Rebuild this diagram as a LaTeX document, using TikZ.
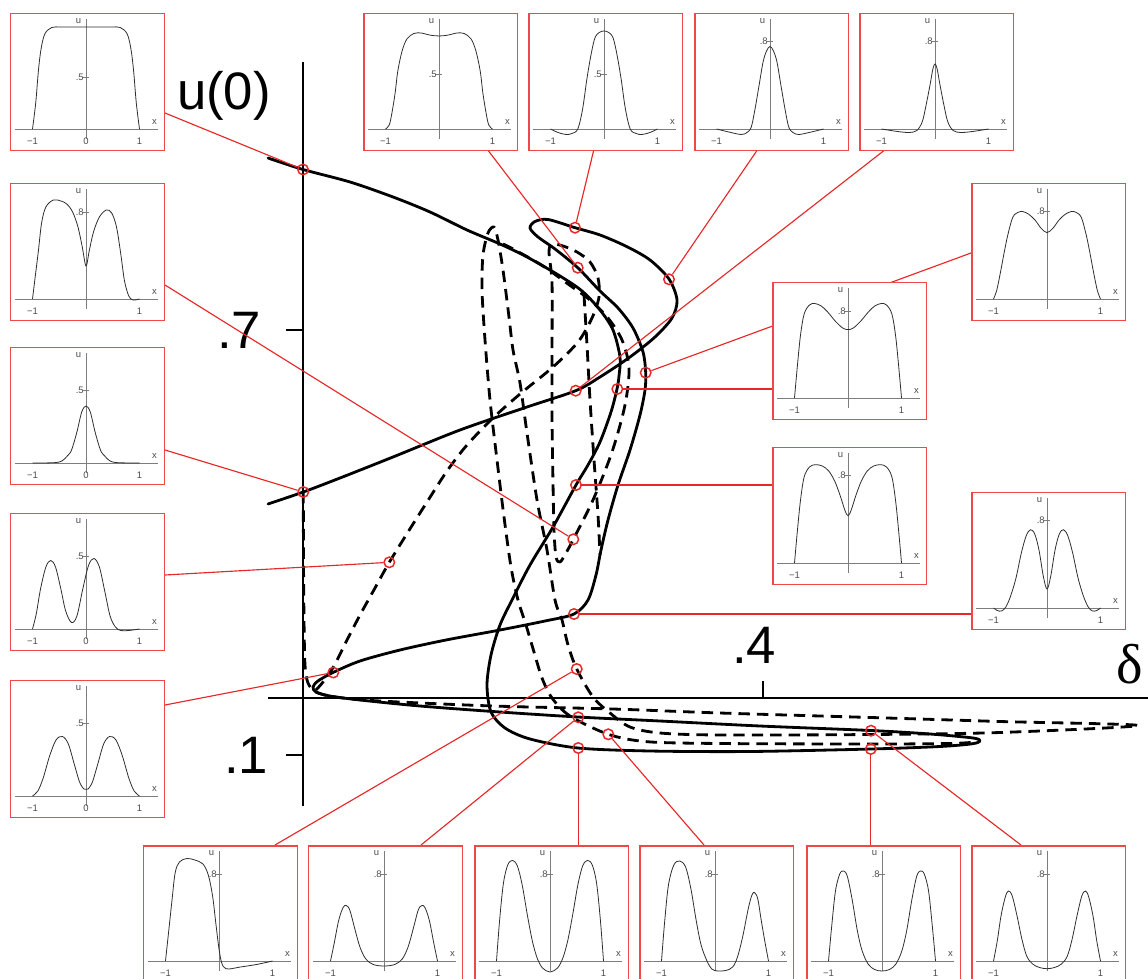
\documentclass[tikz,border=0pt]{standalone}
\usepackage{fontspec}
\setmainfont{Liberation Sans}
\newfontfamily\serifgreek{Liberation Serif}
\definecolor{leadred}{RGB}{232,40,40}
\definecolor{framered}{RGB}{238,72,72}
\definecolor{insetgray}{RGB}{125,125,125}
\definecolor{insetink}{RGB}{45,45,45}
\tikzset{
  mainline/.style={line width=1.6pt, line cap=round, line join=round},
  dashline/.style={line width=1.6pt, dash pattern=on 6.5pt off 4pt, line join=round},
  axisline/.style={line width=1.1pt},
  leader/.style={draw=leadred, line width=0.65pt},
  marker/.style={circle, draw=leadred, line width=0.85pt, minimum size=0.21cm, inner sep=0pt},
  insetframe/.style={rectangle, draw=framered, line width=0.85pt, fill=white, minimum width=3.08cm, minimum height=2.74cm, inner sep=0pt},
  insetaxis/.style={draw=insetgray, line width=0.45pt},
  insetcurve/.style={draw=insetink, line width=0.45pt},
  insettext/.style={text=insetink!85, font=\fontsize{5.4}{6}\selectfont, inner sep=0.5pt},
  biglabel/.style={font=\fontsize{30}{32}\selectfont, inner sep=0pt},
}
% #1 name, #2 left x, #3 top y, #4 tick label, #5 tick height, #6 zero label, #7 curve
\newcommand\insetplot[7]{%
  \node[insetframe, anchor=north west] (#1) at (#2,#3) {};
  \begin{scope}[shift={(#2+76,#3+116)}, yscale=-1, xscale=53.5]
    \draw[insetaxis] (-1.33,0) -- (1.35,0);
    \draw[insetaxis] (0,-10) -- (0,110);
    \draw[insetaxis] (-0.05,#5) -- (0.05,#5);
    \node[insettext, anchor=east] (#1-t) at (-0.02,#5) {#4};
    \node[insettext] (#1-u) at (-0.14,108) {u};
    \node[insettext] (#1-x) at (1.28,7) {x};
    \node[insettext] (#1-a) at (-1,-12) {−1};
    \node[insettext] (#1-b) at (1,-12) {1};
    \if\relax\detokenize{#6}\relax\else\node[insettext] (#1-z) at (0,-12) {#6};\fi
    \draw[insetcurve] plot[smooth, tension=0.55] coordinates {#7};
  \end{scope}}

\begin{document}
\begin{tikzpicture}[x=0.02cm, y=-0.02cm]
\clip (0,0) rectangle (1148,979);
\fill[white] (0,0) rectangle (1148,979);

% axes
\coordinate (vtop) at (303,62);
\coordinate (vbot) at (303,806);
\coordinate (hleft) at (268,698);
\coordinate (hright) at (1148,698);
\draw[axisline] (vtop) -- (vbot);
\draw[axisline] (hleft) -- (hright);
\coordinate (t7) at (303,330);
\coordinate (t1) at (303,755);
\coordinate (t4) at (763,698);
\draw[axisline] (t7) -- ++(-17,0);
\draw[axisline] (t1) -- ++(-17,0);
\draw[axisline] (t4) -- ++(0,-17);
\node[biglabel] (lu0) at (224,96) {u(0)};
\node[biglabel] (l7) at (239,330) {.7};
\node[biglabel] (l1) at (246,755) {.1};
\node[biglabel] (l4) at (754,645) {.4};
\node[biglabel, font=\fontsize{32}{34}\selectfont\serifgreek] (ld) at (1130,664) {δ};

% solid branch
\draw[mainline] plot[smooth, tension=0.5] coordinates {
 (268,158) (303,169.5) (350,182) (393,197) (430,212) (467,230) (500,244) (527,257)
 (560,276) (582,291) (600,310) (613,330) (620,357) (619,376) (617,389) (611,412)
 (600,442) (588,465) (576,485) (553,527) (530,565) (513,598) (500,625) (491,655)
 (487,685) (491,712) (505,728) (530,739) (578,748) (650,751) (750,751.5) (871,749)
 (940,746.5) (972,743.8) (980,741) (973,738) (930,734) (871,730.5) (760,726) (660,721)
 (578,717) (500,712) (420,706) (360,700) (330,696) (316,692) (313,687) (318,681)
 (333,672.5) (360,661) (400,650) (446,640) (500,630) (545,621) (574,614) (588,600)
 (596,575) (601,550) (608,520) (618,485) (630,450) (640,415) (645,390) (645.7,372.7)
 (643,352) (633,328) (618,308) (600,291) (577.7,267.7) (555,249) (538,237) (530,228)
 (535,221.5) (548,219.5) (575,227.7) (600,235) (627,246.7) (650,260) (669,279)
 (677,300) (672,318) (655,337) (630,357) (600,377) (575.7,390.7) (527,407) (460,430)
 (393,457) (340,478) (303.3,492) (268,504)};

% dashed: axis branch, long wedge, second and first verticals
\draw[dashline] plot[smooth, tension=0.5] coordinates {
 (303.3,492) (303.5,560) (304,620) (305,665) (308,683) (316,692) (335,697) (380,701)
 (493,706) (613,709) (720,713) (871,717.5) (1000,721.5) (1138,725.5) (1000,732.5)
 (871,734.5) (720,735) (660,733) (630,727) (610,713) (593,697) (576.7,669) (568,645)
 (562,620) (555,600) (547,550) (537,500) (527,433) (520,383) (513,350) (509,317)
 (503,270) (498,240) (494,227) (488,233) (483,255) (482,290) (485,340) (490,400)
 (497,460) (504,517) (511,567) (518,600) (526,625) (534,652) (542,678) (552,698)
 (570,716) (608.3,734.3) (647,741.7) (720,743.5) (871,744) (950,743.5) (976,742)};
% dashed: S branch from the left fold, small hook, third vertical, loop through m5
\draw[dashline] plot[smooth, tension=0.5] coordinates {
 (316,690) (323,682) (334,666) (346,642) (360,615) (375,588) (389.3,562.3) (408,532)
 (427,502) (447,471) (467,445) (493,418) (520,394) (553,367) (578,342) (592,318)
 (599,297) (598,278) (590,262) (577,252) (563,246) (552,244) (549,252) (552,283)
 (552,350) (552,417) (553,483) (554,530) (556,557) (560,562) (566,553) (573.3,539.3)
 (593,500) (612,452) (625,405) (629,368) (622,340) (608,318) (590,300) (568,284)
 (543,266) (515,250) (503,244)};
% dashed: fourth vertical
\draw[dashline] plot[smooth, tension=0.5] coordinates {
 (584,295) (587,345) (590,400) (594,460) (598,515) (600,555)};

% markers
\node[marker] (m1) at (303,169.5) {};
\node[marker] (m2) at (303.3,492) {};
\node[marker] (m3) at (389.3,562.3) {};
\node[marker] (m4) at (333.3,672.5) {};
\node[marker] (m5) at (573.3,539.3) {};
\node[marker] (m6) at (575,227.7) {};
\node[marker] (m7) at (577.7,267.7) {};
\node[marker] (m8) at (669,279.3) {};
\node[marker] (m9) at (575.7,390.7) {};
\node[marker] (m10) at (645.7,372.7) {};
\node[marker] (m11) at (617.3,389) {};
\node[marker] (m12) at (576,485) {};
\node[marker] (m13) at (574,614) {};
\node[marker] (m14) at (576.7,669) {};
\node[marker] (m15) at (578.3,717.3) {};
\node[marker] (m16) at (578.3,748) {};
\node[marker] (m17) at (608.3,734.3) {};
\node[marker] (m18) at (871,730.7) {};
\node[marker] (m19) at (870.8,749) {};

% leader ends on the boxes
\coordinate (e1) at (165,113);
\coordinate (e2) at (165,450);
\coordinate (e3) at (165,575);
\coordinate (e4) at (165,705);
\coordinate (e5) at (165,285);
\coordinate (e6) at (594,149);
\coordinate (e7) at (487,149);
\coordinate (e8) at (758,149);
\coordinate (e9) at (886,149);
\coordinate (e10) at (971,253);
\coordinate (e11) at (772,389);
\coordinate (e12) at (772,485);
\coordinate (e13) at (971,614);
\coordinate (e14) at (275,845);
\coordinate (e15) at (421,845);
\coordinate (e16) at (578.3,845);
\coordinate (e17) at (704,845);
\coordinate (e18) at (1021,845);
\coordinate (e19) at (870.8,845);
\foreach \i in {1,...,19} {\draw[leader] (m\i) -- (e\i);}

% insets
\insetplot{L1}{10}{13}{.5}{52}{0}{(-1,0) (-0.94,26) (-0.89,58) (-0.84,80) (-0.77,95) (-0.64,101.5) (-0.45,102) (0,102) (0.45,102) (0.64,101.5) (0.77,95) (0.84,80) (0.89,58) (0.94,26) (1,0)}
\insetplot{L2}{10}{183}{.8}{87}{}{(-1,0) (-0.95,22) (-0.89,48) (-0.83,76) (-0.75,92) (-0.61,99) (-0.47,98) (-0.36,95) (-0.25,87) (-0.15,72) (-0.07,52) (0,33) (0.06,48) (0.14,67) (0.25,82) (0.38,89) (0.48,86) (0.57,72) (0.65,45) (0.72,18) (0.8,3) (0.88,-1) (1,0)}
\insetplot{L3}{10}{347}{.5}{73}{0}{(-1,0) (-0.6,0.3) (-0.45,2) (-0.35,7) (-0.27,13) (-0.17,31) (-0.08,51) (0,57) (0.08,51) (0.17,31) (0.27,13) (0.35,7) (0.45,2) (0.6,0.3) (1,0)}
\insetplot{L4}{10}{513}{.5}{73}{0}{(-1,0) (-0.93,15) (-0.85,40) (-0.75,62) (-0.66,68.5) (-0.57,62) (-0.47,40) (-0.38,18) (-0.27,6.5) (-0.17,13) (-0.06,40) (0.05,64) (0.15,70.5) (0.25,62) (0.35,38) (0.45,13) (0.55,2) (0.65,-1.5) (0.8,-1.5) (1,0)}
\insetplot{L5}{10}{680}{.5}{73}{0}{(-1,0) (-0.9,5) (-0.8,18) (-0.68,40) (-0.56,56) (-0.44,59.5) (-0.33,52) (-0.22,32) (-0.12,14) (-0.04,7) (0,6.7) (0.04,7) (0.12,14) (0.22,32) (0.33,52) (0.44,59.5) (0.56,56) (0.68,40) (0.8,18) (0.9,5) (1,0)}
\insetplot{T1}{363}{13}{.5}{55}{}{(-1,0) (-0.93,4) (-0.88,16) (-0.82,36) (-0.77,58) (-0.69,78) (-0.6,90) (-0.47,95.5) (-0.33,96) (-0.18,94) (0,93) (0.18,94) (0.33,96) (0.47,95.5) (0.6,90) (0.69,78) (0.77,58) (0.82,36) (0.88,16) (0.93,4) (1,0)}
\insetplot{T2}{528}{13}{.5}{55}{}{(-1,0) (-0.86,-3.5) (-0.71,-5.5) (-0.6,-4.5) (-0.49,0) (-0.4,20) (-0.32,50) (-0.24,75) (-0.17,91) (-0.09,96.5) (0,98) (0.09,96.5) (0.17,91) (0.24,75) (0.32,50) (0.4,20) (0.49,0) (0.6,-4.5) (0.71,-5.5) (0.86,-3.5) (1,0)}
\insetplot{T3}{694}{13}{.8}{88}{}{(-1,0) (-0.77,-3) (-0.54,-5.5) (-0.43,-3.5) (-0.35,2) (-0.28,20) (-0.2,45) (-0.13,67) (-0.065,78) (0,82.5) (0.065,78) (0.13,67) (0.2,45) (0.28,20) (0.35,2) (0.43,-3.5) (0.54,-5.5) (0.77,-3) (1,0)}
\insetplot{T4}{859}{13}{.8}{88}{}{(-1,0) (-0.7,-2.5) (-0.48,-3.5) (-0.34,-1.5) (-0.24,7) (-0.17,23) (-0.09,45) (-0.04,60) (0,65) (0.04,60) (0.09,45) (0.17,23) (0.24,7) (0.34,-1.5) (0.48,-3.5) (0.7,-2.5) (1,0)}
\insetplot{R1}{971}{183}{.8}{87.4}{}{(-1,0) (-0.94,8.7) (-0.87,26.7) (-0.8,46.7) (-0.73,64.7) (-0.64,81.7) (-0.54,86.7) (-0.45,87.4) (-0.34,84.7) (-0.22,78.7) (-0.11,70.7) (0,66.4) (0.11,70.7) (0.22,78.7) (0.34,84.7) (0.45,87.4) (0.54,86.7) (0.64,81.7) (0.73,64.7) (0.8,46.7) (0.87,26.7) (0.94,8.7) (1,0)}
\insetplot{R3}{772}{447}{.8}{88}{}{(-1,0) (-0.95,30) (-0.89,62) (-0.82,86) (-0.72,96) (-0.61,98.3) (-0.48,97) (-0.36,92) (-0.25,82) (-0.15,68) (-0.06,53) (0,47.3) (0.06,53) (0.15,68) (0.25,82) (0.36,92) (0.48,97) (0.61,98.3) (0.72,96) (0.82,86) (0.89,62) (0.95,30) (1,0)}
\insetplot{R4}{971}{492}{.8}{87.3}{}{(-1,0) (-0.93,-2.5) (-0.85,-3) (-0.77,1) (-0.68,12) (-0.58,30) (-0.48,55) (-0.39,72) (-0.31,78.3) (-0.23,74) (-0.15,58) (-0.07,32) (0,19) (0.07,32) (0.15,58) (0.23,74) (0.31,78.3) (0.39,72) (0.48,55) (0.58,30) (0.68,12) (0.77,1) (0.85,-3) (0.93,-2.5) (1,0)}
\insetplot{R2}{772}{282}{.8}{87}{}{(-1,0) (-0.95,30) (-0.89,62) (-0.82,84) (-0.72,93) (-0.62,94.5) (-0.5,92) (-0.38,86) (-0.24,77) (-0.1,70) (0,68.4) (0.1,70) (0.24,77) (0.38,86) (0.5,92) (0.62,94.5) (0.72,93) (0.82,84) (0.89,62) (0.95,30) (1,0)}
\insetplot{B1}{143}{845}{.8}{87}{}{(-1,0) (-0.94,30) (-0.88,60) (-0.82,88) (-0.74,99) (-0.6,102.5) (-0.45,101) (-0.3,97) (-0.2,86) (-0.12,65) (-0.06,38) (0,12) (0.05,-2) (0.1,-6.5) (0.18,-8) (0.4,-6) (0.7,-3.5) (1,0)}
\insetplot{B2}{308}{845}{.8}{87}{}{(-1,0) (-0.93,18) (-0.85,40) (-0.77,53) (-0.71,55.6) (-0.64,51) (-0.55,33) (-0.45,14) (-0.34,2) (-0.2,-3.5) (0,-5) (0.2,-3.5) (0.34,2) (0.45,14) (0.55,33) (0.64,51) (0.71,55.6) (0.77,53) (0.85,40) (0.93,18) (1,0)}
\insetplot{B3}{474}{845}{.8}{87}{}{(-1,0) (-0.94,42) (-0.87,78) (-0.79,96) (-0.7,100.6) (-0.61,95) (-0.52,76) (-0.42,45) (-0.33,20) (-0.24,3) (-0.14,-7) (0,-11) (0.14,-7) (0.24,3) (0.33,20) (0.42,45) (0.52,76) (0.61,95) (0.7,100.6) (0.79,96) (0.87,78) (0.94,42) (1,0)}
\insetplot{B4}{639}{845}{.8}{87}{}{(-1,0) (-0.94,40) (-0.87,76) (-0.77,96) (-0.66,100) (-0.55,94) (-0.45,72) (-0.35,40) (-0.26,16) (-0.15,0) (-0.06,-8) (0.05,-10) (0.2,-9.5) (0.33,-6) (0.42,4) (0.52,25) (0.62,52) (0.69,66) (0.74,68.4) (0.8,62) (0.86,42) (0.93,20) (1,0)}
\insetplot{B5}{806}{845}{.8}{87}{}{(-1,0) (-0.94,35) (-0.87,70) (-0.79,87) (-0.72,90) (-0.65,85) (-0.56,62) (-0.46,30) (-0.37,10) (-0.26,-3) (-0.14,-8.5) (0,-10) (0.14,-8.5) (0.26,-3) (0.37,10) (0.46,30) (0.56,62) (0.65,85) (0.72,90) (0.79,87) (0.87,70) (0.94,35) (1,0)}
\insetplot{B6}{971}{845}{.8}{87}{}{(-1,0) (-0.93,20) (-0.86,45) (-0.78,64) (-0.72,70) (-0.65,65) (-0.56,45) (-0.47,22) (-0.38,5) (-0.27,-3) (-0.14,-6.5) (0,-7.7) (0.14,-6.5) (0.27,-3) (0.38,5) (0.47,22) (0.56,45) (0.65,65) (0.72,70) (0.78,64) (0.86,45) (0.93,20) (1,0)}
\end{tikzpicture}
\end{document}
